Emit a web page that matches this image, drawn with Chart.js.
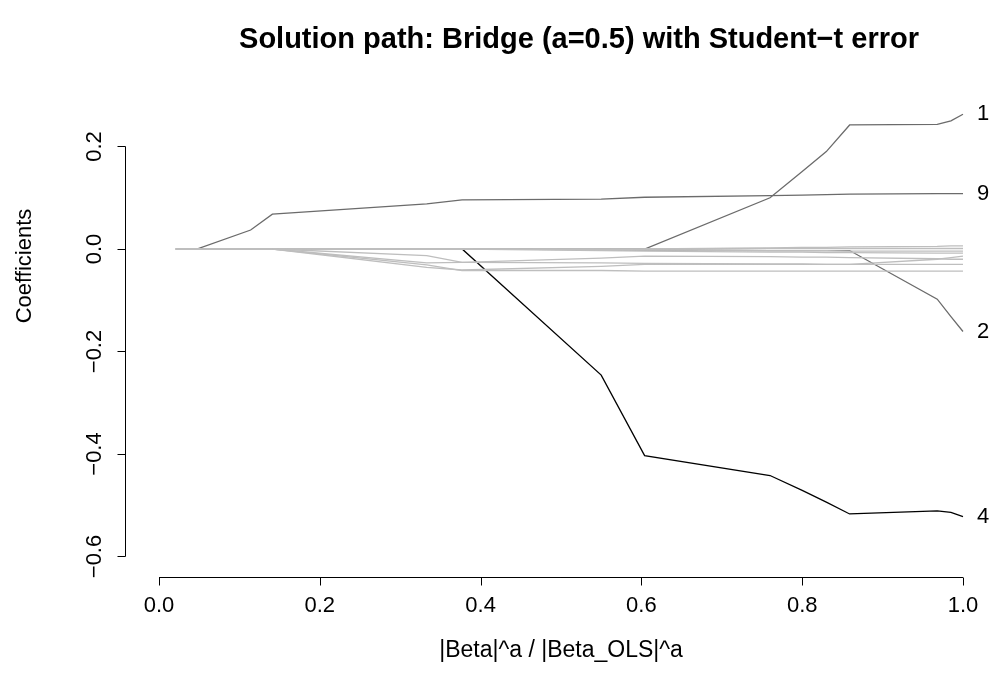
<!DOCTYPE html>
<html>
<head>
<meta charset="utf-8">
<script src="https://cdn.jsdelivr.net/npm/chart.js@4.4.0/dist/chart.umd.min.js"></script>
<style>
  body { margin: 0; background: #fff; }
  #wrap { width: 1000px; height: 683px; }
</style>
</head>
<body>
<div id="wrap"><canvas id="myChart"></canvas></div>
<script>
// knots of the path (|Beta|^a / |Beta_OLS|^a)
const steps = [0.021, 0.047, 0.114, 0.141, 0.333, 0.377, 0.550, 0.604, 0.760, 0.800, 0.830, 0.859, 0.968, 0.985, 1.0];

// coefficient paths, one array per variable
const coef1  = [0, 0, 0, 0, 0, 0, 0, 0, 0.100, 0.151, 0.190, 0.242, 0.243, 0.250, 0.263];
const coef2  = [0, 0, 0, 0, 0, 0, -0.001, -0.002, -0.003, -0.003, -0.003, -0.003, -0.098, -0.132, -0.161];
const coef3  = [0, 0, 0, 0, -0.013, -0.026, -0.018, -0.014, -0.015, -0.016, -0.016, -0.017, -0.019, -0.020, -0.020];
const coef4  = [0, 0, 0, 0, 0, 0, -0.246, -0.403, -0.442, -0.471, -0.494, -0.517, -0.511, -0.514, -0.522];
const coef5  = [0, 0, 0, 0, -0.027, -0.026, -0.027, -0.028, -0.029, -0.029, -0.030, -0.030, -0.030, -0.030, -0.030];
const coef6  = [0, 0, 0, 0, -0.031, -0.042, -0.042, -0.043, -0.043, -0.043, -0.043, -0.043, -0.043, -0.043, -0.043];
const coef7  = [0, 0, 0, 0, -0.036, -0.041, -0.034, -0.030, -0.030, -0.030, -0.030, -0.030, -0.020, -0.017, -0.014];
const coef8  = [0, 0, 0, 0, 0, 0, 0, 0, 0.002, 0.003, 0.003, 0.004, 0.005, 0.006, 0.006];
const coef9  = [0, 0, 0.037, 0.068, 0.088, 0.096, 0.0975, 0.101, 0.104, 0.105, 0.106, 0.107, 0.108, 0.108, 0.108];
const coef10 = [0, 0, 0, 0, 0, 0, 0, 0, 0.001, 0.001, 0.001, 0.001, 0.001, 0.001, 0.001];
const coef11 = [0, 0, 0, 0, 0, 0, -0.001, -0.002, -0.003, -0.003, -0.003, -0.004, -0.004, -0.004, -0.004];
const coef12 = [0, 0, 0, 0, 0, 0, -0.003, -0.004, -0.006, -0.006, -0.007, -0.007, -0.008, -0.008, -0.008];

const xTicks = [0.0, 0.2, 0.4, 0.6, 0.8, 1.0];
const yTicks = [-0.6, -0.4, -0.2, 0.0, 0.2];

const titleText = 'Solution path: Bridge (a=0.5) with Student\u2212t error';
const xTitle = '|Beta|^a / |Beta_OLS|^a';
const yTitle = 'Coefficients';

const grey = '#bebebe';
const dark = '#6b6b6b';

function path(label, values, color, tag) {
    return {
        label: label,
        data: steps.map((s, i) => ({ x: s, y: values[i] })),
        borderColor: color,
        borderWidth: 1.3,
        pointRadius: 0,
        fill: false,
        tension: 0,
        tag: tag
    };
}

// unlabelled variables first, the labelled ones on top
const datasets = [
    path('3', coef3, grey), path('5', coef5, grey), path('6', coef6, grey),
    path('7', coef7, grey), path('8', coef8, grey), path('10', coef10, grey),
    path('11', coef11, grey), path('12', coef12, grey),
    path('9', coef9, dark, '9'), path('1', coef1, dark, '1'),
    path('2', coef2, dark, '2'), path('4', coef4, '#000000', '4')
];

const font = '"Liberation Sans", Arial, Helvetica, sans-serif';
const minus = s => s.replace('-', '\u2212');

const rAxes = {
    id: 'rAxes',
    afterDraw(chart) {
        const c = chart.ctx, a = chart.chartArea;
        const xs = chart.scales.x, ys = chart.scales.y;
        c.save();
        c.strokeStyle = '#000';
        c.fillStyle = '#000';
        c.lineWidth = 1;

        // x axis
        const yb = Math.round(a.bottom) + 0.5;
        c.beginPath();
        c.moveTo(xs.getPixelForValue(xTicks[0]), yb);
        c.lineTo(xs.getPixelForValue(xTicks[xTicks.length - 1]), yb);
        xTicks.forEach(t => {
            const px = Math.round(xs.getPixelForValue(t)) + 0.5;
            c.moveTo(px, yb);
            c.lineTo(px, yb + 8);
        });
        c.stroke();
        c.font = '22px ' + font;
        c.textAlign = 'center';
        c.textBaseline = 'middle';
        xTicks.forEach(t => c.fillText(t.toFixed(1), xs.getPixelForValue(t), 606));

        // y axis
        const xl = Math.round(a.left) + 0.5;
        c.beginPath();
        c.moveTo(xl, ys.getPixelForValue(yTicks[0]));
        c.lineTo(xl, ys.getPixelForValue(yTicks[yTicks.length - 1]));
        yTicks.forEach(t => {
            const py = Math.round(ys.getPixelForValue(t)) + 0.5;
            c.moveTo(xl, py);
            c.lineTo(xl - 8, py);
        });
        c.stroke();
        yTicks.forEach(t => {
            c.save();
            c.translate(95, ys.getPixelForValue(t));
            c.rotate(-Math.PI / 2);
            c.fillText(minus(t.toFixed(1)), 0, 0);
            c.restore();
        });

        // titles
        const cx = (a.left + a.right) / 2;
        c.save();
        c.translate(25, 266);
        c.rotate(-Math.PI / 2);
        c.fillText(yTitle, 0, 0);
        c.restore();
        c.font = '23px ' + font;
        c.fillText(xTitle, cx, 651);
        c.font = 'bold 29px ' + font;
        c.fillText(titleText, cx + 18, 40);

        // variable numbers at the right end of the paths
        c.font = '22px ' + font;
        c.textAlign = 'left';
        chart.data.datasets.forEach(ds => {
            if (!ds.tag) return;
            const last = ds.data[ds.data.length - 1];
            c.fillText(ds.tag, xs.getPixelForValue(last.x) + 14, ys.getPixelForValue(last.y));
        });
        c.restore();
    }
};

const ctx = document.getElementById('myChart');
const myChart = new Chart(ctx, {
    type: 'line',
    data: { datasets: datasets },
    options: {
        responsive: true,
        maintainAspectRatio: false,
        animation: false,
        events: [],
        layout: { padding: { left: 125, right: 3, top: 77, bottom: 106 } },
        plugins: { legend: { display: false }, tooltip: { enabled: false }, title: { display: false } },
        scales: {
            x: { type: 'linear', min: -0.0423, max: 1.0423, display: false },
            y: { type: 'linear', min: -0.64, max: 0.3356, display: false }
        }
    },
    plugins: [rAxes]
});
</script>
</body>
</html>
